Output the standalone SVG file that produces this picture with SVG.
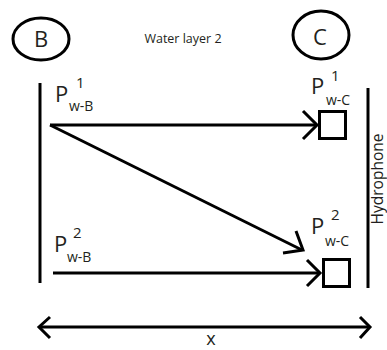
<svg xmlns="http://www.w3.org/2000/svg" width="387" height="350" viewBox="0 0 387 350">
<style>
.ln{stroke:#000;stroke-width:3;fill:none}
.hd{stroke:#000;stroke-width:3;fill:none;stroke-linecap:butt;stroke-linejoin:miter}
.t{font-family:"Open Sans","Noto Sans",sans-serif;fill:#231f20}
.big{font-size:22px}
.sub{font-size:14px}
.sup{font-size:15px}
</style>
<rect width="387" height="350" fill="#fff"/>
<g id="nodeB">
<ellipse cx="41" cy="39" rx="28" ry="21" class="ln"/>
<text class="t big" x="41" y="47" text-anchor="middle">B</text>
</g>
<g id="nodeC">
<ellipse cx="321" cy="35" rx="28" ry="24" class="ln"/>
<text class="t big" x="320" y="45" text-anchor="middle">C</text>
</g>
<g id="title">
<text class="t" x="183" y="43" text-anchor="middle" font-size="12.5">Water layer 2</text>
</g>
<g id="wallB">
<line x1="40" y1="83" x2="40" y2="283" class="ln"/>
</g>
<g id="hydrophone">
<line x1="368" y1="88" x2="368" y2="288" class="ln"/>
<text class="t" font-size="15.5" text-anchor="middle" transform="translate(383,179) rotate(-90)">Hydrophone</text>
</g>
<g id="rx1">
<rect x="319.5" y="111.5" width="26" height="27" class="ln"/>
</g>
<g id="rx2">
<rect x="323.5" y="259.5" width="26" height="27" class="ln"/>
</g>
<g id="labels">
<text class="t big" x="55" y="102">P</text>
<text class="t sup" x="76" y="88">1</text>
<text class="t sub" x="69" y="111">w-B</text>
<text class="t big" x="54" y="252">P</text>
<text class="t sup" x="73" y="238">2</text>
<text class="t sub" x="67" y="262">w-B</text>
<text class="t big" x="311" y="94">P</text>
<text class="t sup" x="331" y="81">1</text>
<text class="t sub" x="326" y="105">w-C</text>
<text class="t big" x="311" y="234">P</text>
<text class="t sup" x="331" y="220">2</text>
<text class="t sub" x="325" y="246">w-C</text>
<text class="t" font-size="18" x="211" y="345" text-anchor="middle">x</text>
</g>
<g id="connectors">
<line x1="50" y1="125" x2="316" y2="125" class="ln"/>
<polyline points="303,111 317,125 303,139" class="hd"/>
<line x1="50" y1="125" x2="302" y2="250" class="ln"/>
<polyline points="296,231 303,250 283,253" class="hd"/>
<line x1="53" y1="273" x2="319" y2="273" class="ln"/>
<polyline points="307,260 320,273 307,286" class="hd"/>
<line x1="40" y1="327" x2="368" y2="327" class="ln"/>
<polyline points="50,317 39,327 50,338" class="hd"/>
<polyline points="360,317 370,327 360,338" class="hd"/>
</g>
</svg>
